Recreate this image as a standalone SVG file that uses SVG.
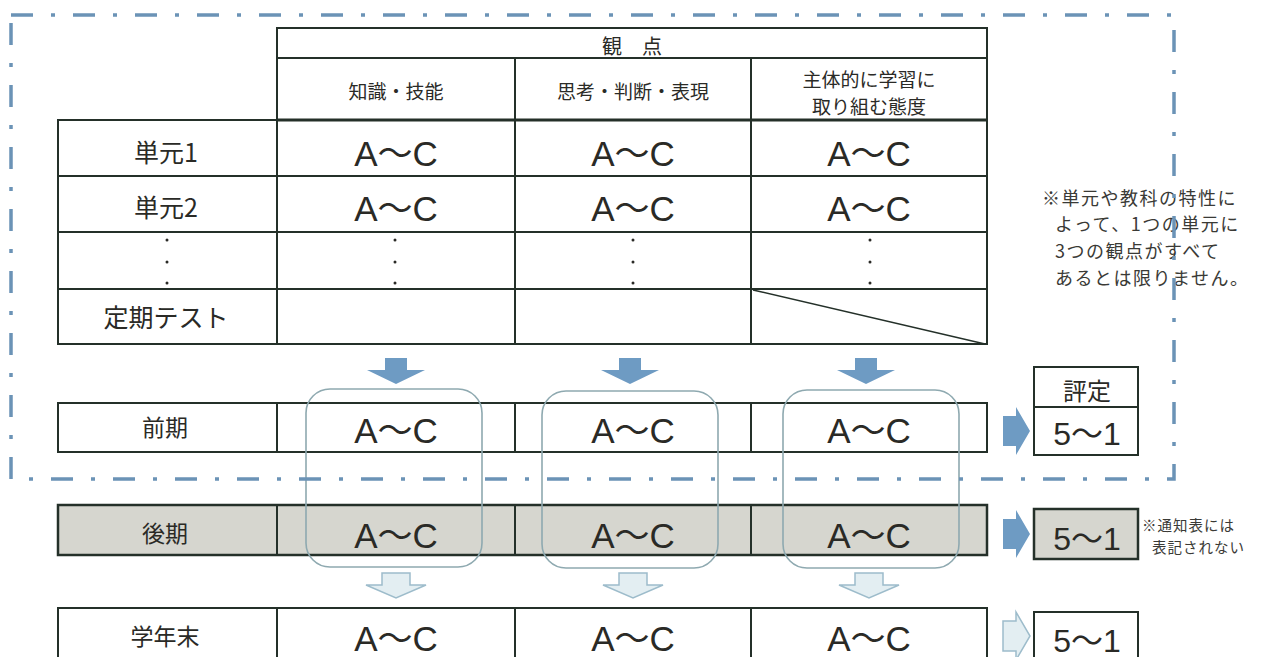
<svg xmlns="http://www.w3.org/2000/svg" width="1262" height="657" viewBox="0 0 1262 657">
<style>
.ln{fill:none;stroke:#243029;stroke-width:2}
.th{fill:none;stroke:#243029;stroke-width:3}
.cell{fill:#ffffff;stroke:#243029;stroke-width:2}
.grey{fill:#d6d6cf;stroke:#243029;stroke-width:2.5}
.jp{font-family:"Noto Sans CJK JP","Noto Sans",sans-serif;fill:#2a2a26;text-anchor:middle}
.ac{font-family:"Liberation Sans","Noto Sans CJK JP",sans-serif;fill:#2a2a26;text-anchor:middle;font-size:35px}
.sc{font-family:"Liberation Sans","Noto Sans CJK JP",sans-serif;fill:#2a2a26;text-anchor:middle;font-size:32px}
.note{font-family:"Noto Sans CJK JP","Noto Sans",sans-serif;fill:#3a3a36}
.dot{fill:#2a2a26}
.round{fill:none;stroke:#8ea9b0;stroke-width:1.6}
.blue{fill:#6e9bc3}
.light{fill:#e3eef2;stroke:#9dbccb;stroke-width:1.5}
.dash{fill:none;stroke:#6b93b6;stroke-width:3.5;stroke-dasharray:22 18 4 18}
</style>
<rect width="1262" height="657" fill="#ffffff"/>

<g id="header">
  <rect class="cell" x="277" y="28" width="710" height="92"/>
  <line class="ln" x1="277" y1="58" x2="987" y2="58"/>
  <line class="ln" x1="515" y1="58" x2="515" y2="120"/>
  <line class="ln" x1="751" y1="58" x2="751" y2="120"/>
  <text class="jp" x="632" y="54" font-size="20">観　点</text>
  <text class="jp" x="396" y="99" font-size="19">知識・技能</text>
  <text class="jp" x="633" y="99" font-size="19">思考・判断・表現</text>
  <text class="jp" x="869" y="87" font-size="19">主体的に学習に</text>
  <text class="jp" x="869" y="114" font-size="19">取り組む態度</text>
</g>

<g id="unit-table">
  <rect class="cell" x="58" y="120" width="929" height="224"/>
  <line class="th" x1="277" y1="120" x2="987" y2="120"/>
  <line class="ln" x1="58" y1="176" x2="987" y2="176"/>
  <line class="ln" x1="58" y1="232" x2="987" y2="232"/>
  <line class="ln" x1="58" y1="289" x2="987" y2="289"/>
  <line class="ln" x1="277" y1="120" x2="277" y2="344"/>
  <line class="ln" x1="515" y1="120" x2="515" y2="344"/>
  <line class="ln" x1="751" y1="120" x2="751" y2="344"/>
  <line x1="753" y1="290" x2="985" y2="344" stroke="#243029" stroke-width="1.5"/>
  <text class="jp" x="166" y="162" font-size="25">単元1</text>
  <text class="jp" x="166" y="217" font-size="25">単元2</text>
  <text class="jp" x="166" y="327" font-size="25">定期テスト</text>
  <text class="ac" x="396" y="166">A～C</text>
  <text class="ac" x="633" y="166">A～C</text>
  <text class="ac" x="869" y="166">A～C</text>
  <text class="ac" x="396" y="221">A～C</text>
  <text class="ac" x="633" y="221">A～C</text>
  <text class="ac" x="869" y="221">A～C</text>
  <circle class="dot" cx="167" cy="240" r="1.5"/><circle class="dot" cx="167" cy="262" r="1.5"/><circle class="dot" cx="167" cy="283" r="1.5"/>
  <circle class="dot" cx="395" cy="240" r="1.5"/><circle class="dot" cx="395" cy="262" r="1.5"/><circle class="dot" cx="395" cy="283" r="1.5"/>
  <circle class="dot" cx="633" cy="240" r="1.5"/><circle class="dot" cx="633" cy="262" r="1.5"/><circle class="dot" cx="633" cy="283" r="1.5"/>
  <circle class="dot" cx="870" cy="240" r="1.5"/><circle class="dot" cx="870" cy="262" r="1.5"/><circle class="dot" cx="870" cy="283" r="1.5"/>
</g>

<g id="zenki">
  <rect class="cell" x="58" y="403" width="929" height="49" stroke-width="2.5"/>
  <line class="ln" x1="277" y1="403" x2="277" y2="452"/>
  <line class="ln" x1="515" y1="403" x2="515" y2="452"/>
  <line class="ln" x1="751" y1="403" x2="751" y2="452"/>
  <text class="jp" x="165" y="436" font-size="23">前期</text>
  <text class="ac" x="396" y="443">A～C</text>
  <text class="ac" x="633" y="443">A～C</text>
  <text class="ac" x="869" y="443">A～C</text>
</g>

<g id="kouki">
  <rect class="grey" x="58" y="505" width="929" height="50"/>
  <line class="ln" x1="277" y1="505" x2="277" y2="555"/>
  <line class="ln" x1="515" y1="505" x2="515" y2="555"/>
  <line class="ln" x1="751" y1="505" x2="751" y2="555"/>
  <text class="jp" x="165" y="542" font-size="23">後期</text>
  <text class="ac" x="396" y="548">A～C</text>
  <text class="ac" x="633" y="548">A～C</text>
  <text class="ac" x="869" y="548">A～C</text>
</g>

<g id="gakunenmatsu">
  <rect class="cell" x="58" y="608" width="929" height="60" stroke-width="2.5"/>
  <line class="ln" x1="277" y1="608" x2="277" y2="660"/>
  <line class="ln" x1="515" y1="608" x2="515" y2="660"/>
  <line class="ln" x1="751" y1="608" x2="751" y2="660"/>
  <text class="jp" x="165" y="645" font-size="23">学年末</text>
  <text class="ac" x="396" y="651">A～C</text>
  <text class="ac" x="633" y="651">A～C</text>
  <text class="ac" x="869" y="651">A～C</text>
</g>

<g id="column-groups">
  <rect class="round" x="306" y="389" width="176" height="178" rx="24"/>
  <rect class="round" x="542" y="391" width="176" height="177" rx="24"/>
  <rect class="round" x="783" y="390" width="176" height="178" rx="24"/>
</g>

<g id="hyoutei">
  <rect class="cell" x="1034" y="367" width="104" height="88" stroke-width="2.5"/>
  <line class="ln" x1="1034" y1="407" x2="1138" y2="407"/>
  <text class="jp" x="1087" y="400" font-size="24">評定</text>
  <text class="sc" x="1087" y="445">5～1</text>
</g>

<g id="hyoutei-kouki">
  <rect class="grey" x="1034" y="509" width="104" height="50"/>
  <text class="sc" x="1087" y="550">5～1</text>
</g>

<g id="hyoutei-gakunenmatsu">
  <rect class="cell" x="1034" y="612" width="104" height="56" stroke-width="2.5"/>
  <text class="sc" x="1087" y="652">5～1</text>
</g>

<g id="notes">
  <text class="note" x="1042" y="205" font-size="18" letter-spacing="1.5">※単元や教科の特性に</text>
  <text class="note" x="1055" y="231" font-size="18" letter-spacing="1.5">よって、1つの単元に</text>
  <text class="note" x="1055" y="258" font-size="18" letter-spacing="1.5">3つの観点がすべて</text>
  <text class="note" x="1055" y="285" font-size="18" letter-spacing="1.5">あるとは限りません。</text>
  <text class="note" x="1142" y="531" font-size="14.5" letter-spacing="1">※通知表には</text>
  <text class="note" x="1152" y="553" font-size="14.5" letter-spacing="1">表記されない</text>
</g>

<g id="connectors">
  <polygon class="blue" points="385,358 407,358 407,370 425,370 396,384 367,370 385,370"/>
  <polygon class="blue" points="619,358 641,358 641,370 659,370 630,384 601,370 619,370"/>
  <polygon class="blue" points="855,358 877,358 877,370 895,370 866,384 837,370 855,370"/>
  <polygon class="light" points="382,573 410,573 410,585 426,585 396,598 366,585 382,585"/>
  <polygon class="light" points="619,573 647,573 647,585 663,585 633,598 603,585 619,585"/>
  <polygon class="light" points="855,573 883,573 883,585 899,585 869,598 839,585 855,585"/>
  <polygon class="blue" points="1003,416 1016,416 1016,407 1030,431 1016,455 1016,446 1003,446"/>
  <polygon class="blue" points="1003,519 1016,519 1016,510 1030,534 1016,558 1016,549 1003,549"/>
  <polygon class="light" points="1003,621 1016,621 1016,612 1030,636 1016,660 1016,651 1003,651"/>
</g>

<g id="scope-border">
  <rect class="dash" x="11" y="15" width="1163" height="464"/>
</g>
</svg>
